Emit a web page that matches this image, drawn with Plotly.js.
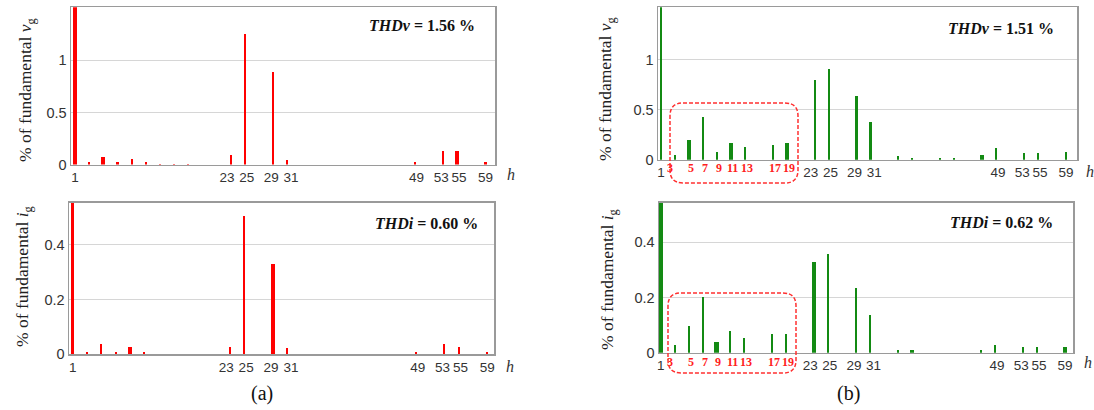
<!DOCTYPE html>
<html><head><meta charset="utf-8">
<script src="https://cdn.plot.ly/plotly-3.0.1.min.js"></script>
<style>html,body{margin:0;padding:0;background:#fff}#chart{width:1094px;height:410px}</style>
</head><body><div id="chart"></div>
<script>
// ---------- DATA ----------
const harmonicsAv = [1,3,5,7,9,11,13,15,17,23,25,29,31,49,53,55,59];
const vgA = [100,0.022,0.07,0.02,0.055,0.02,0.008,0.006,0.006,0.087,1.256,0.885,0.04,0.02,0.13,0.13,0.02];
const harmonicsAi = [1,3,5,7,9,11,23,25,29,31,49,53,55,59];
const igA = [100,0.0074,0.038,0.007,0.026,0.007,0.026,0.506,0.331,0.021,0.007,0.038,0.026,0.007];
const harmonicsBv = [1,3,5,7,9,11,13,17,19,23,25,29,31,35,37,41,43,47,49,53,55,59];
const vgB = [100,0.047,0.196,0.426,0.081,0.166,0.132,0.145,0.166,0.797,0.912,0.638,0.375,0.034,0.017,0.017,0.017,0.047,0.115,0.064,0.064,0.081];
const harmonicsBi = [1,3,5,7,9,11,13,17,19,23,25,29,31,35,37,47,49,53,55,59];
const igB = [100,0.0265,0.096,0.2,0.037,0.077,0.055,0.067,0.067,0.328,0.357,0.236,0.136,0.008,0.008,0.008,0.0265,0.02,0.02,0.02];
const tickHarmonics = [1,23,25,29,31,49,53,55,59];
const lowHarmonicLabels = [3,5,7,9,11,13,17,19];
const thdNames = ["THDv","THDi","THDv","THDi"];
const thdValues = ["1.56","0.60","1.51","0.62"];
const captions = ["(a)","(b)"];

// ---------- STYLE ----------
const W = 1094, H = 410;
const px = x => x / W, py = y => 1 - y / H;
const thickAv = [5,55], thickAi = [9,29], thickBv = [5,11,19,47], thickBi = [1,9,23,37,59];
const widths = (hs, thick, thin, wide, first) => hs.map(h => h === 1 && first ? first : (thick.includes(h) ? wide : thin));
// label padding (non-breaking spaces) to keep neighbouring tick labels apart, as in the figure
const NB = '\u00a0';
const labelPad = {23:[0,2], 25:[1,0], 29:[0,1], 31:[2,0], 49:[1,0], 53:[0,1], 55:[1,0]};
const tickText = tickHarmonics.map(h => { const p = labelPad[h] || [0,0]; return NB.repeat(p[0]) + h + NB.repeat(p[1]); });

const red = '#ff0000', green = '#138a13';
function barTrace(x, y, xa, ya, color, w) {
  return {type:'bar', x, y, xaxis:xa, yaxis:ya, width:w, marker:{color, line:{width:0}}, hoverinfo:'x+y', showlegend:false};
}
const data = [
  barTrace(harmonicsAv, vgA, 'x', 'y', red, widths(harmonicsAv, thickAv, 0.3, 0.6, 0.45)),
  barTrace(harmonicsAi, igA, 'x2', 'y2', red, widths(harmonicsAi, thickAi, 0.3, 0.6, 0.45)),
  barTrace(harmonicsBv, vgB, 'x3', 'y3', green, widths(harmonicsBv, thickBv, 0.3, 0.6)),
  barTrace(harmonicsBi, igB, 'x4', 'y4', green, widths(harmonicsBi, thickBi, 0.3, 0.6)),
];

const xTickFont = {family:'Liberation Sans, Arial, sans-serif', size:13.5, color:'#333'};
const yTickFont = {family:'Liberation Sans, Arial, sans-serif', size:14.5, color:'#333'};
function xax(domPx, range, anchor) {
  return {domain:[px(domPx[0]), px(domPx[1])], range, anchor, tickmode:'array', tickvals:tickHarmonics,
    ticktext:tickText, tickangle:0, showgrid:false, zeroline:false, showline:true, mirror:true,
    linecolor:'#9a9a9a', linewidth:1.5, ticks:'', tickfont:xTickFont, fixedrange:true};
}
function yax(domPx, range, tv, anchor) {
  return {domain:[py(domPx[1]), py(domPx[0])], range, tickmode:'array', tickvals:tv, ticktext:tv.map(String),
    showgrid:true, gridcolor:'#d6d6d6', gridwidth:1, zeroline:false, showline:true, mirror:true,
    linecolor:'#9a9a9a', linewidth:1.5, ticks:'', tickfont:yTickFont, anchor, fixedrange:true};
}

const serif = 'Liberation Serif, Times New Roman, serif';
const annotations = [];
// y titles
[[27,90,'v'],[23,277,'i'],[607,89,'v'],[608,280,'i']].forEach(([x,y,s]) => {
  annotations.push({xref:'paper', yref:'paper', x:px(x), y:py(y), xanchor:'center', yanchor:'middle',
    text:'% of fundamental <i>'+s+'</i><sub>g</sub>', textangle:-90, showarrow:false,
    font:{family:serif, size:17.5, color:'#222'}});
});
// THD labels
[[422,25],[426,223],[1001,28],[1001,222]].forEach(([x,y], i) => {
  annotations.push({xref:'paper', yref:'paper', x:px(x), y:py(y), xanchor:'center', yanchor:'middle',
    text:'<b><i>'+thdNames[i]+'</i> = '+thdValues[i]+' %</b>', showarrow:false,
    font:{family:serif, size:16, color:'#111'}});
});
// h labels
[[511,175],[510,366],[1090,172],[1088,362]].forEach(([x,y]) => {
  annotations.push({xref:'paper', yref:'paper', x:px(x), y:py(y), xanchor:'center', yanchor:'middle',
    text:'<i>h</i>', showarrow:false, font:{family:serif, size:16, color:'#333'}});
});
// captions
[[262,393],[848,393]].forEach(([x,y], i) => {
  annotations.push({xref:'paper', yref:'paper', x:px(x), y:py(y), xanchor:'center', yanchor:'middle',
    text:captions[i], showarrow:false, font:{family:serif, size:20, color:'#111'}});
});
// red low-order harmonic labels in (b)
[['x3',168],['x4',362]].forEach(([xa,y]) => {
  lowHarmonicLabels.forEach(h => {
    annotations.push({xref:xa, yref:'paper', x:h, y:py(y), xanchor:'center', yanchor:'middle',
      xshift: h === 3 ? -5 : 2,
      text:'<b>'+h+'</b>', showarrow:false, font:{family:serif, size:12, color:'#ff2020'}});
  });
});

function roundRect(x0,y0,x1,y1,r) {
  const P = (x,y) => px(x).toFixed(5)+','+py(y).toFixed(5);
  return 'M'+P(x0+r,y0)+' L'+P(x1-r,y0)+' Q'+P(x1,y0)+' '+P(x1,y0+r)+' L'+P(x1,y1-r)+' Q'+P(x1,y1)+' '+P(x1-r,y1)+
    ' L'+P(x0+r,y1)+' Q'+P(x0,y1)+' '+P(x0,y1-r)+' L'+P(x0,y0+r)+' Q'+P(x0,y0)+' '+P(x0+r,y0)+' Z';
}
const shapes = [
  {type:'path', xref:'paper', yref:'paper', path:roundRect(670,103,798,183,13), line:{color:'#ff3030', width:1.5, dash:'4px,2px'}, layer:'above'},
  {type:'path', xref:'paper', yref:'paper', path:roundRect(668,293,796,373,13), line:{color:'#ff3030', width:1.5, dash:'4px,2px'}, layer:'above'},
];

const layout = {
  width:W, height:H, margin:{l:0,r:0,t:0,b:0}, paper_bgcolor:'#fff', plot_bgcolor:'#fff',
  showlegend:false, bargap:0,
  xaxis: xax([71,495],[0.44,60.34],'y'),
  yaxis: yax([7.3,164.5],[0,1.51],[0,0.5,1],'x'),
  xaxis2: xax([69,494],[0.48,59.94],'y2'),
  yaxis2: yax([202.7,354],[0,0.555],[0,0.2,0.4],'x2'),
  xaxis3: xax([658,1077],[0.57,60.58],'y3'),
  yaxis3: yax([7.3,159.7],[0,1.524],[0,0.5,1],'x3'),
  xaxis4: xax([659,1073.3],[0.75,60.2],'y4'),
  yaxis4: yax([202.7,352.7],[0,0.543],[0,0.2,0.4],'x4'),
  annotations, shapes
};
Plotly.newPlot('chart', data, layout, {displayModeBar:false, staticPlot:true});
</script></body></html>
